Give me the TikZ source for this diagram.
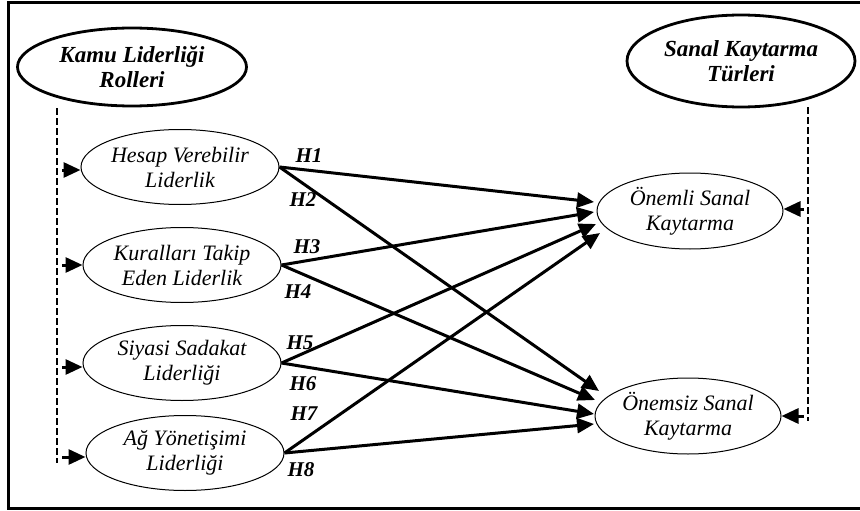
\documentclass[tikz,border=0pt]{standalone}
\usepackage{fontspec}
\setmainfont{Liberation Serif}
\usetikzlibrary{shapes.geometric,arrows.meta}
\begin{document}
\begin{tikzpicture}[x=1pt,y=-1pt,
  bigell/.style={ellipse,draw,line width=2.8pt,inner xsep=-15pt,inner ysep=0pt,align=center,font=\fontsize{23}{25.5}\selectfont\bfseries\itshape},
  smell/.style={ellipse,draw,line width=1pt,inner xsep=-15pt,inner ysep=-4pt,minimum width=198pt,minimum height=75pt,align=center,font=\fontsize{22}{25}\selectfont\itshape},
  hyp/.style={font=\fontsize{21}{22}\selectfont\bfseries\itshape,inner sep=0pt},
  conn/.style={line width=3pt,-{Triangle[length=17pt,width=15pt]}},
  dashln/.style={line width=2.8pt,dash pattern=on 7pt off 3pt},
]
\useasboundingbox (0,0) rectangle (860,511);
\draw[line width=3pt] (875,3) -- (8,3) -- (8,508) -- (875,508);

% big ellipses
\node[bigell,minimum width=229pt,minimum height=78pt] (kamu) at (132,67) {Kamu Liderliği\\Rolleri};
\node[bigell,minimum width=228pt,minimum height=92pt] (sanal) at (741,61) {Sanal Kaytarma\\Türleri};

% small ellipses
\node[smell] (hesap) at (180,167) {Hesap Verebilir\\Liderlik};
\node[smell] (kural) at (182,265) {Kuralları Takip\\Eden Liderlik};
\node[smell] (siyasi) at (182,363) {Siyasi Sadakat\\Liderliği};
\node[smell] (ag) at (185,453) {Ağ Yönetişimi\\Liderliği};

\node[smell,minimum width=186pt,minimum height=76pt] (onemli) at (690,211) {Önemli Sanal\\Kaytarma};
\node[smell,minimum width=186pt,minimum height=76pt] (onemsiz) at (688,416) {Önemsiz Sanal\\Kaytarma};

% dashed lines
\coordinate (ltop) at (57,108);
\coordinate (lbot) at (57,463);
\coordinate (rtop) at (808,107);
\coordinate (rbot) at (808,421);
\draw[dashln] (ltop) -- (lbot);
\draw[dashln] (rtop) -- (rbot);

% left arrows
\coordinate (la1) at (62,170);
\coordinate (la2) at (62,265);
\coordinate (la3) at (62,367);
\coordinate (la4) at (62,457);
\draw[conn] (la1) -- (la1 -| hesap.west);
\draw[conn] (la2) -- (la2 -| kural.west);
\draw[conn] (la3) -- (la3 -| siyasi.west);
\draw[conn] (la4) -- (la4 -| ag.west);

% right arrows
\coordinate (ra1) at (804,209);
\coordinate (ra2) at (804,416);
\draw[conn] (ra1) -- (ra1 -| onemli.east);
\draw[conn] (ra2) -- (ra2 -| onemsiz.east);

% targets
\coordinate (t1) at (594,202);
\coordinate (t3) at (594,212);
\coordinate (t5) at (596,224);
\coordinate (t7) at (600,233);
\coordinate (t2) at (599,391);
\coordinate (t4) at (595,400);
\coordinate (t6) at (594,414);
\coordinate (t8) at (594,424);

\draw[conn] (hesap.east) -- (t1);
\draw[conn] (hesap.east) -- (t2);
\draw[conn] (kural.east) -- (t3);
\draw[conn] (kural.east) -- (t4);
\draw[conn] (siyasi.east) -- (t5);
\draw[conn] (siyasi.east) -- (t6);
\draw[conn] (ag.east) -- (t7);
\draw[conn] (ag.east) -- (t8);

% labels
\node[hyp] (h1) at (309,156) {H1};
\node[hyp] (h2) at (303,200) {H2};
\node[hyp] (h3) at (307,247) {H3};
\node[hyp] (h4) at (298,292) {H4};
\node[hyp] (h5) at (300,343) {H5};
\node[hyp] (h6) at (303,384) {H6};
\node[hyp] (h7) at (304,414) {H7};
\node[hyp] (h8) at (301,470) {H8};
\end{tikzpicture}
\end{document}
